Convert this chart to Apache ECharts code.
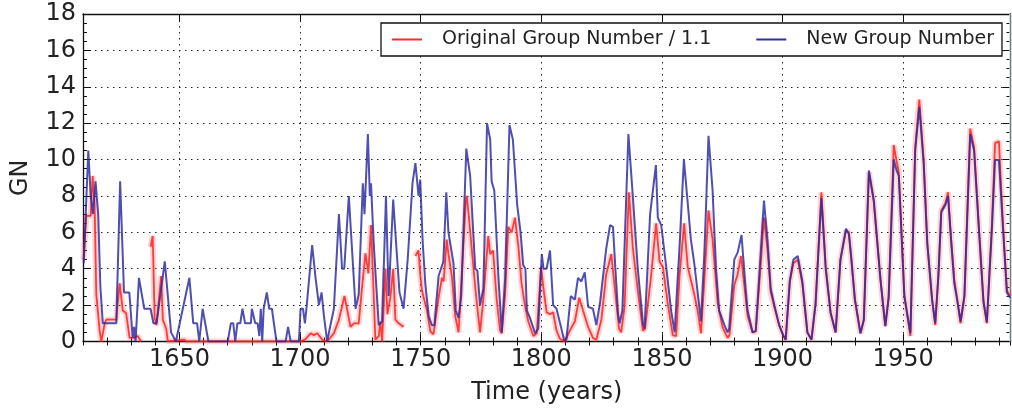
<!DOCTYPE html>
<html>
<head>
<meta charset="utf-8">
<script src="https://cdn.jsdelivr.net/npm/echarts@6/dist/echarts.min.js"></script>
<style>
html,body{margin:0;padding:0;background:#fff;}
#chart{width:1012px;height:410px;}
</style>
</head>
<body>
<div id="chart"></div>
<script>
// ---- data ----
const majorYears = [1650, 1700, 1750, 1800, 1850, 1900, 1950];

const newGroupYears = [
1610.3,1612.2,1613.2,1614.1,1615.2,1616.3,1617.2,1618.2,1623.8,1625.4,1627.0,1629.2,1630.6,1631.2,1631.8,1633.2,1635.4,1638.0,1639.2,1640.5,
1643.9,1646.5,1648.5,1654.1,1655.7,1657.3,1658.2,1659.6,1662.0,1670.0,1671.3,1672.3,1673.1,1674.0,1675.2,1676.1,1677.2,1679.6,1680.0,1681.4,
1682.4,1683.1,1683.7,1684.3,1684.9,1686.2,1687.2,1688.3,1690.2,1694.0,1695.0,1696.1,1699.5,1700.2,1701.2,1702.0,1702.7,1705.0,1706.4,1707.8,
1708.9,1709.8,1711.2,1712.0,1714.0,1716.1,1717.4,1718.3,1720.2,1720.9,1723.0,1724.3,1726.0,1726.7,1728.1,1728.9,1729.4,1730.5,1732.6,1734.0,
1735.6,1736.7,1738.6,1740.0,1741.2,1742.9,1744.6,1746.6,1747.8,1749.1,1749.8,1750.8,1751.9,1753.3,1754.6,1755.7,1757.4,1759.4,1760.6,1761.5,
1762.6,1763.6,1764.5,1765.7,1766.8,1768.9,1770.5,1772.6,1773.5,1774.6,1776.0,1777.5,1778.8,1779.4,1780.5,1782.2,1783.6,1785.0,1786.8,1788.2,
1790.0,1791.4,1792.5,1793.4,1794.0,1795.3,1797.4,1798.7,1800.2,1800.9,1802.2,1803.6,1804.9,1806.3,1809.5,1810.4,1812.2,1813.9,1815.2,1816.6,
1818.0,1819.4,1821.4,1822.8,1824.4,1826.9,1828.5,1829.7,1831.8,1832.5,1833.6,1836.1,1837.6,1840.0,1842.1,1842.8,1845.1,1847.5,1848.3,1849.7,
1851.7,1853.8,1855.3,1857.3,1859.1,1860.7,1862.0,1863.4,1866.2,1867.6,1869.3,1871.0,1872.4,1873.7,1875.9,1877.2,1877.9,1880.0,1881.4,1883.0,
1884.5,1885.5,1887.6,1888.9,1891.0,1892.3,1893.8,1895.1,1896.6,1898.6,1900.4,1901.3,1903.0,1904.5,1906.3,1908.2,1910.3,1912.0,1913.7,1916.1,
1917.9,1919.9,1922.0,1924.0,1926.3,1927.5,1928.5,1930.0,1932.3,1933.7,1935.8,1937.8,1940.6,1942.6,1944.0,1946.1,1947.3,1948.2,1950.5,1953.0,
1955.0,1956.7,1958.5,1960.0,1962.0,1963.3,1964.6,1965.8,1967.5,1968.6,1969.9,1971.2,1972.4,1973.8,1975.4,1977.8,1979.4,1981.5,1983.3,1984.7,
1986.8,1988.1,1989.7,1991.4,1993.0,1994.3
];
const newGroupValues = [
4.3,10.5,8.0,7.0,8.8,7.0,3.0,1.0,1.0,8.8,2.7,2.7,0.2,0.8,0.0,3.5,1.8,1.8,1.0,1.0,
4.4,0.5,0.0,3.5,1.0,1.0,0.0,1.8,0.0,0.0,1.0,1.0,0.0,1.0,1.0,1.8,1.0,1.0,1.8,1.0,
1.0,0.3,1.8,0.0,1.8,2.7,1.8,1.8,0.0,0.0,0.8,0.0,0.0,1.8,1.8,1.0,1.9,5.3,3.5,2.0,
2.7,1.5,0.0,0.0,1.8,7.0,4.0,4.0,8.0,8.0,1.8,2.6,8.7,7.0,11.4,8.0,8.7,5.4,0.9,1.1,
8.0,2.5,7.8,5.0,2.7,1.8,4.5,8.7,9.8,8.0,8.9,5.5,3.2,1.4,0.9,0.9,3.6,4.4,8.2,6.0,
5.1,4.3,1.7,1.3,2.5,10.6,9.1,4.0,3.9,2.0,2.9,12.0,11.1,8.8,8.3,3.6,0.5,3.5,11.9,11.1,
7.5,6.0,4.2,4.0,1.7,1.3,0.45,0.7,4.8,4.0,4.0,5.0,2.0,1.8,0.05,0.1,2.5,2.3,3.5,3.3,
3.8,1.9,1.8,0.9,2.2,5.1,6.4,6.3,1.5,1.0,1.7,11.4,8.6,4.0,1.0,0.7,7.0,9.7,6.8,6.4,
4.2,1.7,0.5,5.2,10.0,7.6,5.6,4.3,1.1,4.8,11.3,8.3,4.0,1.7,0.9,0.5,0.7,4.5,4.9,5.85,
3.2,1.7,0.5,0.6,5.0,7.75,5.5,2.9,2.0,0.9,0.3,0.1,3.3,4.5,4.7,3.3,0.5,0.1,2.1,7.9,
4.0,1.6,0.5,4.5,6.2,5.9,4.6,2.3,0.45,1.2,9.4,7.8,3.4,0.85,2.4,10.0,9.4,9.1,2.5,0.45,
10.5,12.9,9.8,5.4,2.3,1.0,3.6,7.1,7.5,8.0,5.5,3.2,2.3,1.1,2.5,11.4,10.5,6.0,2.2,1.05,
6.2,9.98,9.98,6.2,2.7,2.4
];

const originalYears = [
1610.2,1611.4,1613.2,1614.0,1614.8,1615.5,1616.9,1617.6,1619.0,1619.7,1623.8,1625.2,1626.5,1627.9,1629.3,1631.0,1632.7,1634.0,1636.0,1638.0,
1638.9,1639.7,1640.4,1642.4,1643.1,1644.5,1645.2,1652.0,1653.0,1660.0,1700.0,1702.0,1704.4,1705.7,1707.1,1709.2,1711.2,1714.0,1716.1,1718.4,
1719.0,1720.9,1722.3,1724.3,1725.7,1727.1,1728.3,1729.4,1730.5,1731.2,1732.6,1733.3,1734.0,1735.4,1736.2,1737.4,1738.6,1739.5,1740.9,1741.6,
1742.9,1745.0,1747.8,1749.1,1749.8,1750.5,1752.6,1754.0,1755.3,1757.4,1758.8,1759.5,1760.8,1761.5,1762.9,1764.3,1765.7,1766.4,1768.7,1769.1,
1770.0,1771.9,1773.2,1774.6,1776.0,1778.0,1778.8,1780.0,1781.5,1782.9,1783.6,1785.0,1786.3,1787.7,1789.1,1790.5,1791.8,1793.2,1794.6,1796.7,
1798.1,1799.9,1800.8,1802.2,1803.6,1804.9,1806.3,1807.7,1809.8,1811.8,1813.9,1815.7,1817.3,1819.4,1821.4,1822.8,1824.9,1826.9,1829.0,1830.4,
1832.2,1833.1,1834.5,1836.3,1837.9,1840.0,1842.1,1843.0,1845.5,1847.6,1849.0,1850.4,1852.4,1854.5,1855.9,1857.3,1859.2,1860.7,1863.4,1864.8,
1866.2,1867.6,1869.3,1871.0,1873.1,1875.1,1877.2,1878.0,1880.0,1881.4,1882.8,1884.2,1885.5,1887.6,1888.9,1891.0,1892.3,1893.8,1895.1,1896.6,
1898.6,1900.4,1901.3,1903.0,1904.5,1906.3,1908.2,1910.3,1912.0,1913.7,1916.1,1917.9,1919.9,1922.0,1924.0,1926.3,1927.5,1930.0,1932.3,1933.7,
1935.8,1937.8,1940.6,1942.6,1944.0,1946.1,1947.3,1948.2,1950.5,1953.0,1955.0,1956.7,1958.5,1960.0,1962.0,1963.3,1964.6,1965.8,1967.5,1968.6,
1969.9,1971.2,1972.4,1973.8,1975.4,1977.8,1979.4,1981.5,1983.3,1984.7,1986.8,1988.1,1989.7,1991.4,1993.0,1994.3
];
const originalValues = [
4.5,6.9,6.9,9.1,7.6,2.6,0.6,0.0,1.0,1.2,1.2,3.2,1.7,1.55,0.2,0.2,0.3,0.0,null,5.2,
5.8,1.3,0.9,3.6,1.2,0.7,0.0,0.1,0.0,0.0,0.0,0.1,0.45,0.35,0.45,0.1,0.0,0.45,1.2,2.5,
2.1,0.8,1.0,1.0,3.0,4.85,3.75,6.4,2.6,0.1,0.3,1.1,0.0,4.0,1.5,2.4,4.0,1.2,1.0,1.0,
0.8,null,4.7,5.0,3.7,2.8,1.7,0.55,0.4,2.4,3.5,3.3,5.6,4.8,3.6,1.4,0.5,0.6,7.7,8.0,
6.8,4.0,2.2,0.5,2.4,5.8,4.8,5.0,2.3,0.6,0.45,2.6,6.3,6.0,6.8,5.2,3.2,2.0,1.1,0.3,
0.45,4.1,3.0,1.6,1.5,1.6,0.6,0.15,0.0,0.6,1.1,2.4,1.7,0.8,0.2,0.1,1.2,3.7,4.8,3.0,
0.7,0.5,1.9,8.2,5.2,2.8,0.6,0.7,3.6,6.5,4.4,4.1,2.1,0.35,0.3,3.6,6.5,4.1,2.6,1.7,
0.45,3.4,7.2,5.6,2.1,0.8,0.2,0.35,3.1,3.7,4.7,3.0,1.4,0.5,0.55,4.3,6.8,5.0,2.7,1.9,
0.9,0.3,0.1,3.3,4.3,4.5,3.2,0.5,0.1,2.1,8.2,4.1,1.6,0.5,4.5,6.1,6.0,2.3,0.45,1.2,
9.3,7.7,3.4,0.85,2.5,10.8,9.9,9.3,2.5,0.3,10.7,13.3,10.0,5.4,2.3,0.9,3.6,7.2,7.6,8.2,
5.6,3.4,2.3,1.0,2.5,11.7,10.7,6.0,2.2,1.0,6.5,10.9,11.0,6.4,2.8,2.5
];

const seriesNames = ['Original Group Number / 1.1', 'New Group Number'];

function pairs(xs, ys) { return xs.map((x, i) => [x, ys[i]]); }

const FONT = 'DejaVu Sans';
const X_MIN = 1610, X_MAX = 1994.5;
const gridLine = { show: true, lineStyle: { color: '#222', width: 1, type: [1.5, 4.5] } };
const spine = { show: true, onZero: false, lineStyle: { color: '#111', width: 1.3 } };

function xMajor(pos, labels) {
  return {
    type: 'value', position: pos, min: X_MIN, max: X_MAX,
    axisLine: spine,
    axisTick: { show: true, inside: true, length: 8, customValues: majorYears, lineStyle: { color: '#111' } },
    axisLabel: { show: labels, customValues: majorYears, formatter: v => String(v), color: '#222', fontFamily: FONT, fontSize: 24, margin: 6 },
    splitLine: labels ? gridLine : { show: false },
    name: labels ? 'Time (years)' : '', nameLocation: 'middle', nameGap: 39,
    nameTextStyle: { color: '#222', fontFamily: FONT, fontSize: 24 }
  };
}
function xMinor(pos) {
  return {
    type: 'value', position: pos, min: X_MIN, max: X_MAX, interval: 10,
    axisLine: { show: false },
    axisTick: { show: true, inside: true, length: 4, lineStyle: { color: '#111' } },
    axisLabel: { show: false }, splitLine: { show: false }
  };
}
function yAxis(pos, labels) {
  return {
    type: 'value', position: pos, min: 0, max: 18, interval: 2,
    axisLine: spine,
    axisTick: { show: true, inside: true, length: 8, lineStyle: { color: '#111' } },
    minorTick: { show: true, splitNumber: 4, length: 4, lineStyle: { color: '#111' } },
    axisLabel: { show: labels, color: '#222', fontFamily: FONT, fontSize: 24, margin: 7 },
    splitLine: labels ? gridLine : { show: false },
    name: labels ? 'GN' : '', nameLocation: 'middle', nameGap: 50, nameRotate: 90,
    nameTextStyle: { color: '#222', fontFamily: FONT, fontSize: 24 }
  };
}

const chart = echarts.init(document.getElementById('chart'), null, { renderer: 'canvas' });
chart.setOption({
  animation: false,
  backgroundColor: '#fff',
  grid: { left: 83, right: 1.5, top: 14, bottom: 68.5, containLabel: false },
  legend: {
    data: seriesNames,
    left: 381, top: 23,
    orient: 'horizontal',
    backgroundColor: '#fff',
    borderColor: '#111', borderWidth: 1.3, borderRadius: 0,
    padding: [7, 8, 7, 11],
    itemGap: 45,
    itemWidth: 30, itemHeight: 2,
    icon: 'rect',
    textStyle: { color: '#222', fontFamily: FONT, fontSize: 19, padding: [0, 0, 0, 15] }
  },
  xAxis: [xMajor('bottom', true), xMinor('bottom'), xMajor('top', false), xMinor('top')],
  yAxis: [yAxis('left', true), yAxis('right', false)],
  series: [
    {
      name: 'band', type: 'line', xAxisIndex: 0, yAxisIndex: 0,
      data: pairs(originalYears, originalValues),
      showSymbol: false, connectNulls: false, silent: true,
      lineStyle: { color: 'rgba(255,60,60,0.22)', width: 6 },
      markArea: { silent: true, itemStyle: { color: '#cfe9e9' }, data: [[{ xAxis: 1994 }, { xAxis: 1994.5 }]] }
    },
    {
      name: seriesNames[0], type: 'line', xAxisIndex: 0, yAxisIndex: 0,
      data: pairs(originalYears, originalValues),
      showSymbol: false, connectNulls: false,
      color: '#ff2a2a',
      lineStyle: { color: 'rgba(255,30,30,0.85)', width: 1.8 }
    },
    {
      name: seriesNames[1], type: 'line', xAxisIndex: 0, yAxisIndex: 0,
      data: pairs(newGroupYears, newGroupValues),
      showSymbol: false,
      color: '#3030a0',
      lineStyle: { color: 'rgba(40,40,160,0.82)', width: 2 }
    }
  ]
});
</script>
</body>
</html>
